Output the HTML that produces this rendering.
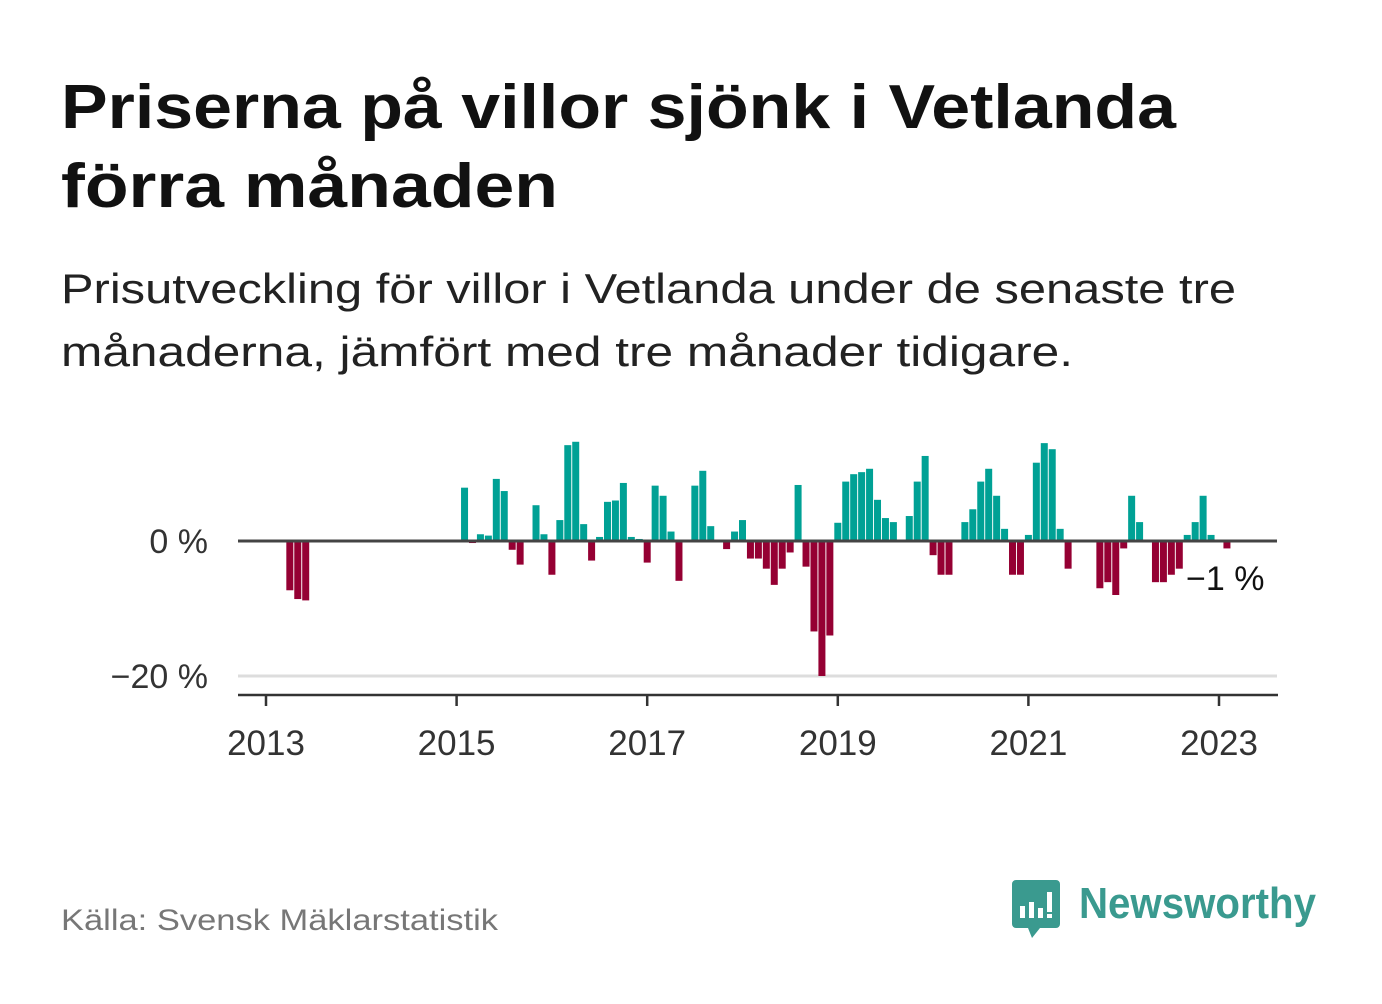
<!DOCTYPE html>
<html><head><meta charset="utf-8"><style>
body{margin:0;background:#fff;width:1382px;height:999px;overflow:hidden;font-family:"Liberation Sans",sans-serif;}
</style></head><body>
<svg width="1382" height="999" viewBox="0 0 1382 999" xmlns="http://www.w3.org/2000/svg">
<text x="61" y="128" font-size="62" font-weight="bold" fill="#111" textLength="1115" lengthAdjust="spacingAndGlyphs">Priserna på villor sjönk i Vetlanda</text>
<text x="61" y="207" font-size="62" font-weight="bold" fill="#111" textLength="497" lengthAdjust="spacingAndGlyphs">förra månaden</text>
<text x="61" y="303" font-size="42" fill="#222" textLength="1175" lengthAdjust="spacingAndGlyphs">Prisutveckling för villor i Vetlanda under de senaste tre</text>
<text x="61" y="366" font-size="42" fill="#222" textLength="1012" lengthAdjust="spacingAndGlyphs">månaderna, jämfört med tre månader tidigare.</text>
<g id="plot"></g>
<text x="61" y="930" font-size="30" fill="#777" textLength="437" lengthAdjust="spacingAndGlyphs">Källa: Svensk Mäklarstatistik</text>
<g>
<path d="M1016 880 h40 a4 4 0 0 1 4 4 v40 a4 4 0 0 1 -4 4 h-16 l-8 10 l-4 -10 h-12 a4 4 0 0 1 -4 -4 v-40 a4 4 0 0 1 4 -4z" fill="#3a9a8f"/>
<rect x="1020" y="906" width="5" height="12" fill="#fff"/><rect x="1029" y="902" width="5" height="16" fill="#fff"/><rect x="1038" y="908" width="5" height="10" fill="#fff"/><rect x="1047" y="892" width="5" height="20" fill="#fff"/><rect x="1047" y="914" width="5" height="4" fill="#fff"/>
<text x="1079" y="918" font-size="44" font-weight="bold" fill="#3a9a8f" textLength="237" lengthAdjust="spacingAndGlyphs">Newsworthy</text>
</g>
</svg>
<script>
const startYear = 2013;
const monthIndex = [3,4,5,25,26,27,28,29,30,31,32,34,35,36,37,38,39,40,41,42,43,44,45,46,47,48,49,50,51,52,54,55,56,58,59,60,61,62,63,64,65,66,67,68,69,70,71,72,73,74,75,76,77,78,79,81,82,83,84,85,86,88,89,90,91,92,93,94,95,96,97,98,99,100,101,105,106,107,108,109,110,112,113,114,115,116,117,118,119,121];
const values = [-7.3,-8.6,-8.8,7.9,-0.3,1.0,0.8,9.2,7.4,-1.3,-3.5,5.3,1.0,-5.0,3.1,14.2,14.7,2.5,-2.9,0.6,5.8,6.0,8.6,0.6,0.3,-3.2,8.2,6.7,1.4,-5.9,8.2,10.4,2.2,-1.2,1.4,3.1,-2.6,-2.6,-4.1,-6.5,-4.1,-1.7,8.3,-3.8,-13.4,-20,-14.0,2.7,8.8,9.9,10.2,10.7,6.1,3.4,2.8,3.7,8.8,12.6,-2.1,-5.0,-5.0,2.8,4.7,8.8,10.7,6.7,1.8,-5.0,-5.0,0.9,11.6,14.5,13.6,1.8,-4.1,-7.0,-6.1,-8.0,-1.1,6.7,2.8,-6.1,-6.1,-5.0,-4.1,0.9,2.8,6.7,0.9,-1.1];
const yTicks = [0,-20];
const yTickLabels = ["0 %","\u221220 %"];
const xTicks = [2013,2015,2017,2019,2021,2023];
const lastLabel = "\u22121 %";

const NS="http://www.w3.org/2000/svg";
const g=document.getElementById('plot');
const x0=266, pxMonth=95.3/12, y0=541, pxPct=6.75;
const xs=m=>x0+m*pxMonth;
const ys=v=>y0-v*pxPct;
function mk(t,a){const e=document.createElementNS(NS,t);for(const k in a)e.setAttribute(k,a[k]);g.appendChild(e);return e;}
yTicks.forEach((t,i)=>{
  if(t!==0){const l=mk('line',{x1:238,x2:1277,y1:ys(t),y2:ys(t),stroke:'#ddd','stroke-width':3});
  
  }
  const tx=mk('text',{x:208,y:ys(t)+12,'font-size':34,fill:'#333','text-anchor':'end'});tx.textContent=yTickLabels[i];
  
  
});
values.forEach((v,i)=>{
  const cx=xs(monthIndex[i]);
  const r=mk('rect',{x:cx-3.5,width:7,y:Math.min(ys(v),y0),height:Math.abs(ys(v)-y0),fill:v>=0?'#00a195':'#950033'});
  
  
});
const zl=mk('line',{x1:238,x2:1277,y1:y0,y2:y0,stroke:'#444','stroke-width':3});


const ax=mk('line',{x1:238,x2:1278,y1:695,y2:695,stroke:'#333','stroke-width':2.5});


xTicks.forEach(yr=>{
  const x=xs((yr-startYear)*12);
  const tk=mk('line',{x1:x,x2:x,y1:695,y2:706,stroke:'#333','stroke-width':2.5});
  
  
  const t=mk('text',{x:x,y:755,'font-size':35,fill:'#333','text-anchor':'middle'});t.textContent=yr;
  
  
});
const ll=mk('text',{x:1186,y:590,'font-size':34,fill:'#111'});ll.textContent=lastLabel;


</script>
</body></html>
